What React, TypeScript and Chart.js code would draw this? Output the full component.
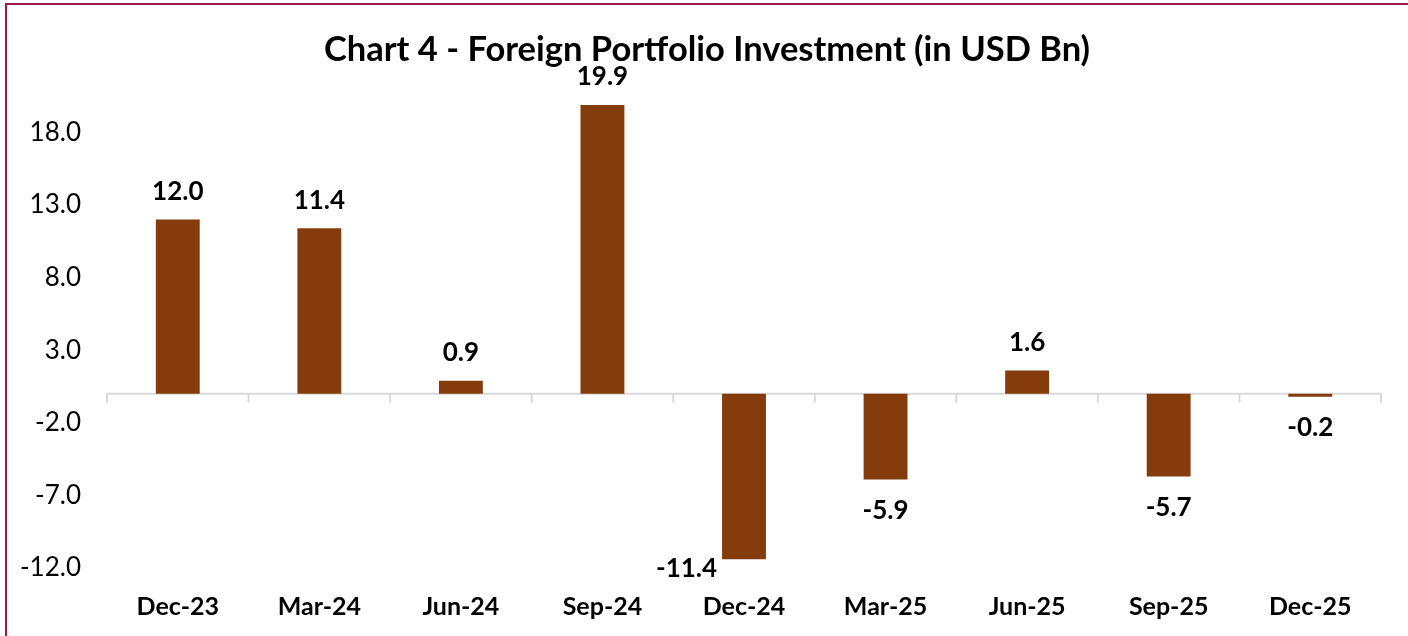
import React, { useEffect, useRef } from "react";
import { Chart, registerables } from "chart.js";

Chart.register(...registerables);

const categories = ["Dec-23", "Mar-24", "Jun-24", "Sep-24", "Dec-24", "Mar-25", "Jun-25", "Sep-25", "Dec-25"];
const fpiValues = [12.0, 11.4, 0.9, 19.9, -11.4, -5.9, 1.6, -5.7, -0.2];
const yTickValues = [-12, -7, -2, 3, 8, 13, 18];
const titleText = "Chart 4 - Foreign Portfolio Investment (in USD Bn)";

const FONT = "Lato, 'Open Sans', sans-serif";
const BAR_COLOR = "#843C0C";
const AXIS_COLOR = "#D9D9D9";

const zeroAxisPlugin = {
  id: "zeroAxis",
  beforeDatasetsDraw(chart: any) {
    const { ctx, chartArea, scales } = chart;
    const x = scales.x;
    const y0 = scales.y.getPixelForValue(0);
    ctx.save();
    ctx.strokeStyle = AXIS_COLOR;
    ctx.lineWidth = 2;
    ctx.beginPath();
    ctx.moveTo(chartArea.left, y0);
    ctx.lineTo(chartArea.right, y0);
    const n = categories.length;
    const step = (chartArea.right - chartArea.left) / n;
    for (let i = 0; i <= n; i++) {
      const px = i < n ? x.getPixelForValue(i) - step / 2 : x.getPixelForValue(n - 1) + step / 2;
      ctx.moveTo(px, y0);
      ctx.lineTo(px, y0 + 9);
    }
    ctx.stroke();
    ctx.restore();
  },
};

const titlePlugin = {
  id: "centeredTitle",
  afterDraw(chart: any) {
    const { ctx, width } = chart;
    ctx.save();
    ctx.font = `bold 34.5px ${FONT}`;
    ctx.fillStyle = "#000000";
    ctx.textAlign = "center";
    ctx.textBaseline = "middle";
    ctx.fillText(titleText, (width + 6) / 2, 50);
    ctx.restore();
  },
};

const dataLabelPlugin = {
  id: "dataLabels",
  afterDatasetsDraw(chart: any) {
    const { ctx, chartArea } = chart;
    const meta = chart.getDatasetMeta(0);
    ctx.save();
    ctx.font = `bold 26px ${FONT}`;
    ctx.fillStyle = "#000000";
    ctx.textBaseline = "middle";
    meta.data.forEach((el: any, i: number) => {
      const v = fpiValues[i];
      const label = v.toFixed(1);
      if (v >= 0) {
        ctx.textAlign = "center";
        ctx.fillText(label, el.x, el.y - 28);
      } else {
        const below = el.y + 31;
        if (below > chartArea.bottom) {
          ctx.textAlign = "right";
          ctx.fillText(label, el.x - el.width / 2 - 5, el.y + 9);
        } else {
          ctx.textAlign = "center";
          ctx.fillText(label, el.x, below);
        }
      }
    });
    ctx.restore();
  },
};

export default function App() {
  const canvasRef = useRef<HTMLCanvasElement | null>(null);

  useEffect(() => {
    if (!canvasRef.current) return;
    const chart = new Chart(canvasRef.current, {
      type: "bar",
      data: {
        labels: categories,
        datasets: [
          {
            data: fpiValues,
            backgroundColor: BAR_COLOR,
            borderWidth: 0,
            categoryPercentage: 1,
            barPercentage: 0.31,
          },
        ],
      },
      options: {
        responsive: false,
        animation: false,
        layout: { padding: { left: 0, right: 27, top: 74.4, bottom: 0 } },
        plugins: {
          legend: { display: false },
          tooltip: { enabled: false },
          title: { display: false },
        },
        scales: {
          x: {
            grid: { display: false, drawTicks: false },
            border: { display: false },
            ticks: {
              color: "#000000",
              font: { family: FONT, size: 25, weight: "bold" },
              padding: 24,
              maxRotation: 0,
              autoSkip: false,
            },
            afterFit(scale: any) {
              scale.height = 68;
            },
          },
          y: {
            min: -12,
            max: 22,
            grid: { display: false, drawTicks: false },
            border: { display: false },
            ticks: {
              color: "#000000",
              font: { family: FONT, size: 26 },
              padding: 26,
              autoSkip: false,
              callback: (v: any) => Number(v).toFixed(1),
            },
            afterBuildTicks(axis: any) {
              axis.ticks = yTickValues.map((v) => ({ value: v }));
            },
            afterFit(scale: any) {
              scale.width = 107;
            },
          },
        },
      },
      plugins: [zeroAxisPlugin, dataLabelPlugin, titlePlugin],
    });
    return () => chart.destroy();
  }, []);

  return (
    <div style={{ position: "fixed", left: 0, top: 0, width: 1408, height: 636, background: "#ffffff" }}>
      <canvas ref={canvasRef} width={1408} height={636} style={{ display: "block" }} />
      <div
        style={{
          position: "absolute",
          left: 5,
          top: 3,
          width: 1403,
          height: 633,
          borderTop: "2px solid #A0184A",
          borderLeft: "2px solid #A0184A",
          boxSizing: "border-box",
          pointerEvents: "none",
        }}
      />
    </div>
  );
}
